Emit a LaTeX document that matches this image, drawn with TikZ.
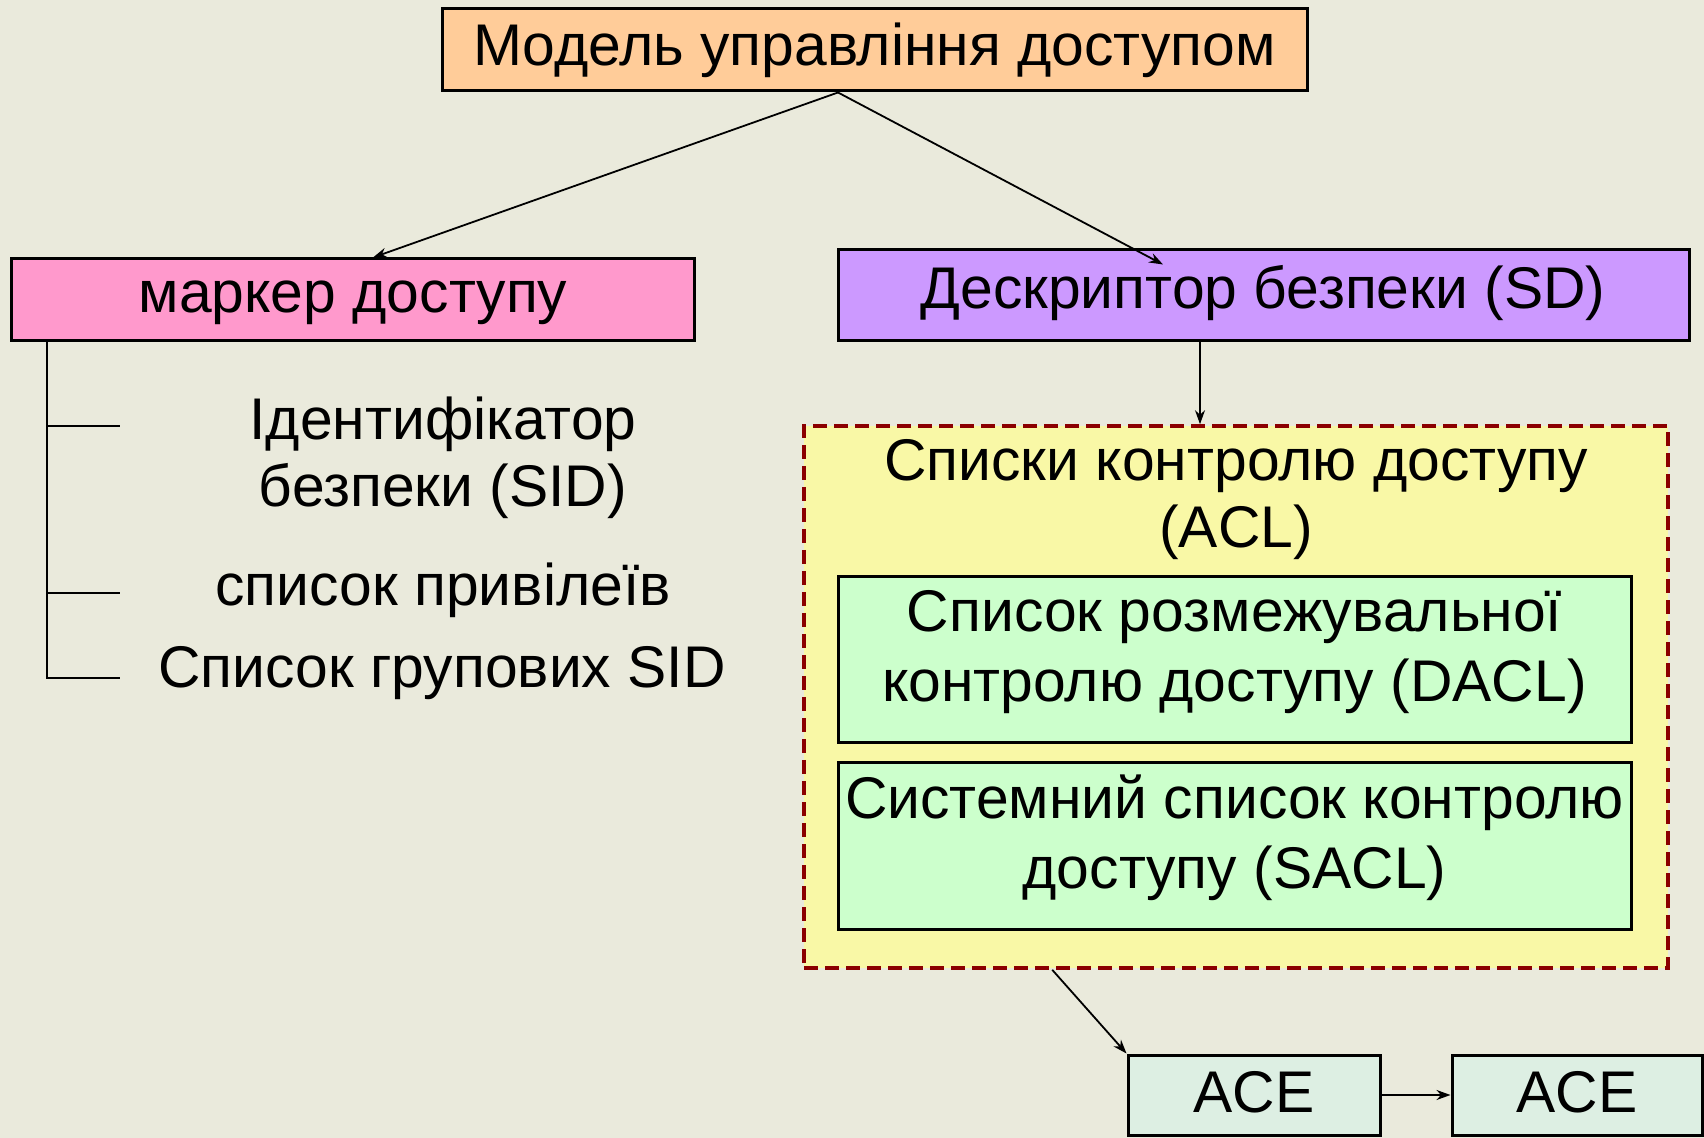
\documentclass[tikz,border=0pt]{standalone}
\usepackage{fontspec}
\setmainfont{Liberation Sans}
\usetikzlibrary{arrows.meta,calc}
\definecolor{bgpaper}{HTML}{EAEADC}
\definecolor{peach}{HTML}{FFCC99}
\definecolor{pinkbox}{HTML}{FF99CC}
\definecolor{lilac}{HTML}{CC99FF}
\definecolor{paleyellow}{HTML}{F9F8A6}
\definecolor{palegreen}{HTML}{CCFFCC}
\definecolor{paleaqua}{HTML}{DDEFE3}
\definecolor{darkred}{HTML}{8B0000}
\tikzset{
  box/.style={draw=black, line width=1.5pt, inner sep=0pt, align=center},
  plain/.style={inner sep=0pt, align=center},
  link/.style={line width=0.9pt, -{Stealth[length=7pt,width=5pt]}},
  branch/.style={line width=0.9pt},
}
\begin{document}
\begin{tikzpicture}[x=0.5pt,y=-0.5pt,
  font=\fontsize{29.4}{33.5}\selectfont]
\clip (0,0) rectangle (1704,1138);
\fill[bgpaper] (0,0) rectangle (1704,1138);

% top level
\node[box, fill=peach, minimum width=432.5pt, minimum height=41pt] (model) at (874.5,50) {Модель управління доступом};

% second level
\node[box, fill=pinkbox, minimum width=341.5pt, minimum height=41pt] (token) at (352.5,300) {};
\node[plain] (tokentext) at (353,303) {маркер доступу};
\node[box, fill=lilac, minimum width=425.5pt, minimum height=45.5pt] (sd) at (1263.5,295.5) {};
\node[plain] (sdtext) at (1263,293) {Дескриптор безпеки (SD)};

% access control lists container
\node[draw=darkred, dash pattern=on 7pt off 3.5pt, line width=1.8pt, fill=paleyellow,
      minimum width=432pt, minimum height=271pt, inner sep=0pt] (acl) at (1236,697) {};
\node[plain] (acltitle) at (1236,500) {Списки контролю доступу\\(ACL)};
\node[box, fill=palegreen, minimum width=396.5pt, minimum height=83pt] (dacl) at (1234.5,660) {};
\node[plain, font=\fontsize{29.4}{35}\selectfont] (dacltext) at (1234.5,652) {Список розмежувальної\\контролю доступу (DACL)};
\node[box, fill=palegreen, minimum width=396.5pt, minimum height=83pt] (sacl) at (1234.5,846) {};
\node[plain, font=\fontsize{29.4}{35}\selectfont] (sacltext) at (1234.5,838) {Системний список контролю\\доступу (SACL)};

% access control entries
\node[box, fill=paleaqua, minimum width=126pt, minimum height=40pt] (ace1) at (1254,1095) {};
\node[plain] (ace1text) at (1254,1092) {ACE};
\node[box, fill=paleaqua, minimum width=125pt, minimum height=40pt] (ace2) at (1577,1095) {};
\node[plain] (ace2text) at (1577,1092) {ACE};

% token contents
\node[plain] (sid) at (443,458) {Ідентифікатор\\безпеки (SID)};
\node[plain] (priv) at (443,590) {список привілеїв};
\node[plain] (groups) at (442,673) {Список групових SID};

% connectors from the model
\coordinate (fork) at ($(model.south)+(-36.5,0)$);
\draw[link] (fork) -- ($(token.north)+(20.5,0)$);
\draw[link] (fork) -- ($(sd.north)+(-100.5,16)$);
\draw[link] (sd.south -| 1200,0) -- (acl.north -| 1200,0);
\draw[link] ($(acl.south west)+(250,0)$) -- (ace1.north west);
\draw[link] (ace1.east) -- (ace2.west);

% token tree
\coordinate (trunk) at (token.south west -| 47,0);
\coordinate (t1) at (120,426);
\coordinate (t2) at (120,593);
\coordinate (t3) at (120,678);
\draw[branch] (trunk) -- (trunk |- t3) -- (t3);
\draw[branch] (trunk |- t1) -- (t1);
\draw[branch] (trunk |- t2) -- (t2);
\end{tikzpicture}
\end{document}
